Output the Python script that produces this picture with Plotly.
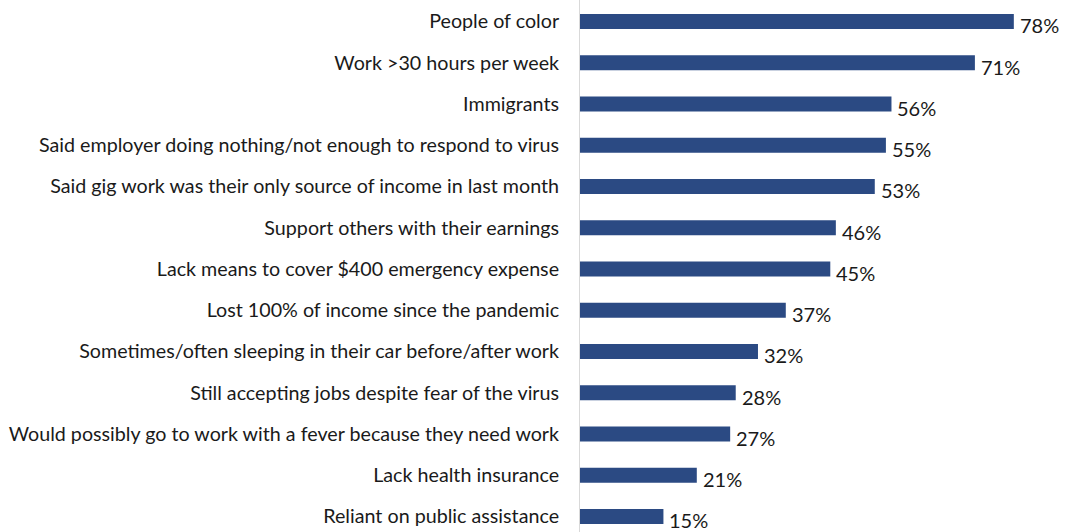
import plotly.graph_objects as go

categories = [
    "People of color",
    "Work >30 hours per week",
    "Immigrants",
    "Said employer doing nothing/not enough to respond to virus",
    "Said gig work was their only source of income in last month",
    "Support others with their earnings",
    "Lack means to cover $400 emergency expense",
    "Lost 100% of income since the pandemic",
    "Sometimes/often sleeping in their car before/after work",
    "Still accepting jobs despite fear of the virus",
    "Would possibly go to work with a fever because they need work",
    "Lack health insurance",
    "Reliant on public assistance",
]
values = [78, 71, 56, 55, 53, 46, 45, 37, 32, 28, 27, 21, 15]

BAR_COLOR = "#2b4a83"
FONT = "Lato"

fig = go.Figure(
    go.Bar(
        x=values,
        y=categories,
        orientation="h",
        marker=dict(color=BAR_COLOR, line=dict(width=0)),
        width=0.36,
        hoverinfo="skip",
    )
)

# percentage labels just past the end of each bar, sitting slightly low
for cat, val in zip(categories, values):
    fig.add_annotation(
        x=val, y=cat, text=f"{val}%", showarrow=False,
        xanchor="left", yanchor="middle", xshift=4, yshift=-4,
        font=dict(family=FONT, size=20, color="#1a1a1a"),
    )

fig.update_layout(
    width=1065, height=532,
    margin=dict(l=580, r=0, t=0, b=0),
    paper_bgcolor="white", plot_bgcolor="white",
    showlegend=False,
    font=dict(family=FONT, size=19.7, color="#1a1a1a"),
    xaxis=dict(range=[0, 87.2], visible=False, fixedrange=True),
    yaxis=dict(
        type="category",
        range=[12.376, -0.521],
        automargin=False,
        showline=True, linecolor="#d9d9d9", linewidth=1,
        showgrid=False, ticks="", ticklabelstandoff=16,
        tickfont=dict(family=FONT, size=19.7, color="#1a1a1a"),
        fixedrange=True,
    ),
)

fig.write_html("out.html")
